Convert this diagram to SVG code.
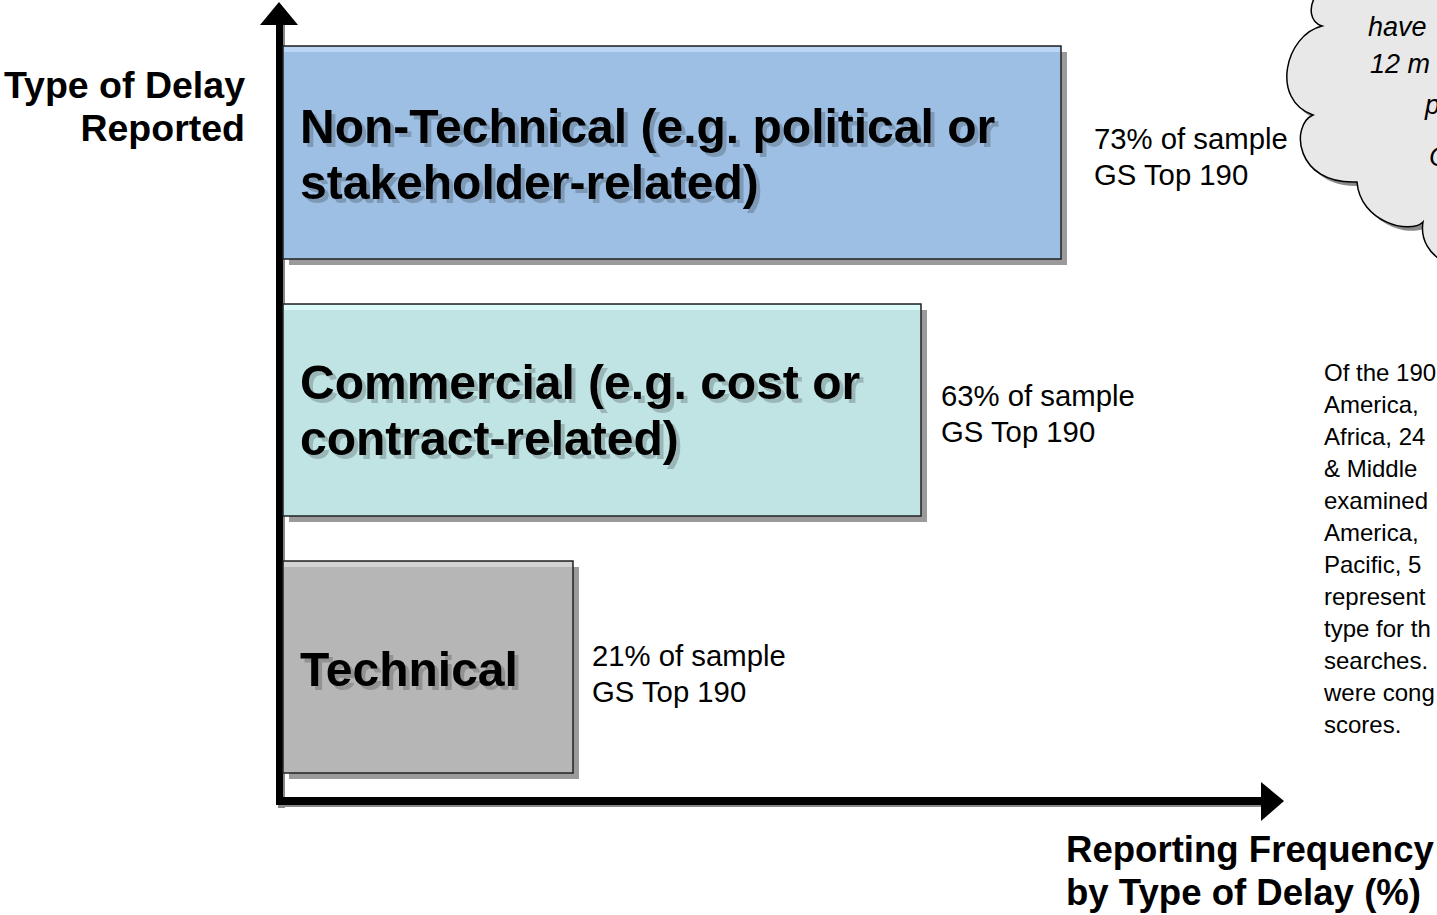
<svg xmlns="http://www.w3.org/2000/svg" width="1437" height="915" viewBox="0 0 1437 915">
  <defs>
    <filter id="tsh" x="-5%" y="-20%" width="115%" height="150%">
      <feDropShadow dx="4" dy="4" stdDeviation="0.6" flood-color="#000" flood-opacity="0.2"/>
    </filter>
  </defs>
  <style>
    .ttl { font-family: "Liberation Sans", Arial, sans-serif; font-weight: bold; font-size: 37.5px; fill: #000; }
    .xttl { font-family: "Liberation Sans", Arial, sans-serif; font-weight: bold; font-size: 36.6px; fill: #000; }
    .box { stroke: #222; stroke-width: 1.5; }
    .shadow { fill: #9a9a9a; }
    .lbl { font-family: "Liberation Sans", Arial, sans-serif; font-weight: bold; font-size: 48px; fill: #000; filter: url(#tsh); }
    .pct { font-family: "Liberation Sans", Arial, sans-serif; font-size: 29.3px; fill: #000; }
    .note { font-family: "Liberation Sans", Arial, sans-serif; font-size: 24px; fill: #000; }
    .cloudt { font-family: "Liberation Sans", Arial, sans-serif; font-style: italic; font-size: 27px; fill: #000; }
  </style>

  <!-- Cloud callout -->
  <g id="cloud">
    <path transform="translate(4,4)" fill="#8a8a8a" d="M 1316,-5 C 1308,8 1310,22 1322,26 C 1285,35 1270,100 1313,115 C 1290,125 1295,185 1357,182 C 1360,222 1410,235 1423,222 C 1420,240 1430,255 1445,262 L 1445,-5 Z"/>
    <path fill="#e8e8e8" stroke="#000" stroke-width="1.5" d="M 1316,-5 C 1308,8 1310,22 1322,26 C 1285,35 1270,100 1313,115 C 1290,125 1295,185 1357,182 C 1360,222 1410,235 1423,222 C 1420,240 1430,255 1445,262 L 1445,-5 Z"/>
    <text class="cloudt" x="1368" y="36">have</text>
    <text class="cloudt" x="1370" y="73">12 m</text>
    <text class="cloudt" x="1425" y="114">p</text>
    <text class="cloudt" x="1429" y="166">C</text>
  </g>

  <!-- Axes -->
  <g id="connectors">
    <rect x="278" y="22" width="7" height="786" fill="#888"/>
    <rect x="278" y="800" width="986" height="7" fill="#888"/>
    <rect x="276" y="20" width="7" height="785" fill="#000"/>
    <polygon points="279,2 298,25 260,25" fill="#000"/>
    <rect x="276" y="797" width="988" height="8" fill="#000"/>
    <polygon points="1284,801 1261,782 1261,821" fill="#000"/>
  </g>

  <!-- Axis titles -->
  <g id="y-title">
    <text class="ttl" x="245" y="98" text-anchor="end">Type of Delay</text>
    <text class="ttl" x="245" y="141" text-anchor="end">Reported</text>
  </g>
  <g id="x-title">
    <text class="xttl" x="1066" y="862">Reporting Frequency</text>
    <text class="xttl" x="1066" y="905">by Type of Delay (%)</text>
  </g>

  <!-- Non-Technical -->
  <g id="non-technical">
    <rect class="shadow" x="289" y="52" width="778" height="213"/>
    <rect class="box" x="283" y="46" width="778" height="213" fill="#9dbfe3"/>
    <rect x="284" y="47" width="776" height="5" fill="#bad6f4"/>
    <text class="lbl" x="300" y="143">Non-Technical (e.g. political or</text>
    <text class="lbl" x="300" y="199">stakeholder-related)</text>
    <text class="pct" x="1094" y="149">73% of sample</text>
    <text class="pct" x="1094" y="185">GS Top 190</text>
  </g>

  <!-- Commercial -->
  <g id="commercial">
    <rect class="shadow" x="289" y="310" width="638" height="212"/>
    <rect class="box" x="283" y="304" width="638" height="212" fill="#c0e4e4"/>
    <rect x="284" y="305" width="636" height="5" fill="#dcf9f9"/>
    <text class="lbl" x="300" y="399">Commercial (e.g. cost or</text>
    <text class="lbl" x="300" y="455">contract-related)</text>
    <text class="pct" x="941" y="406">63% of sample</text>
    <text class="pct" x="941" y="442">GS Top 190</text>
  </g>

  <!-- Technical -->
  <g id="technical">
    <rect class="shadow" x="289" y="567" width="290" height="212"/>
    <rect class="box" x="283" y="561" width="290" height="212" fill="#b6b6b6"/>
    <rect x="284" y="562" width="288" height="5" fill="#d2d2d2"/>
    <text class="lbl" x="300" y="686">Technical</text>
    <text class="pct" x="592" y="666">21% of sample</text>
    <text class="pct" x="592" y="702">GS Top 190</text>
  </g>

  <!-- Side note -->
  <g id="note">
    <text class="note" x="1324" y="381">Of the 190</text>
    <text class="note" x="1324" y="413">America,</text>
    <text class="note" x="1324" y="445">Africa, 24</text>
    <text class="note" x="1324" y="477">&amp; Middle</text>
    <text class="note" x="1324" y="509">examined</text>
    <text class="note" x="1324" y="541">America,</text>
    <text class="note" x="1324" y="573">Pacific, 5</text>
    <text class="note" x="1324" y="605">represent</text>
    <text class="note" x="1324" y="637">type for th</text>
    <text class="note" x="1324" y="669">searches.</text>
    <text class="note" x="1324" y="701">were cong</text>
    <text class="note" x="1324" y="733">scores.</text>
  </g>
</svg>
